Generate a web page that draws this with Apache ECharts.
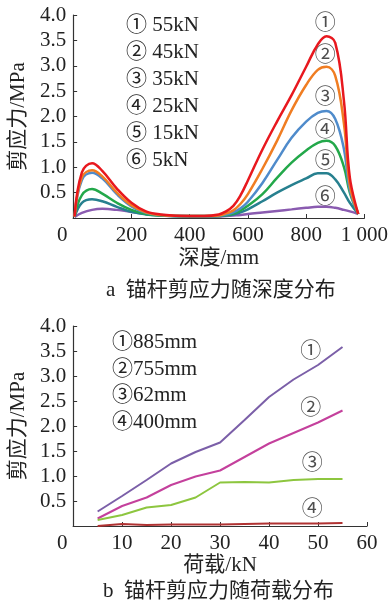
<!DOCTYPE html>
<html>
<head>
<meta charset="utf-8">
<script src="https://cdn.jsdelivr.net/npm/echarts@6/dist/echarts.min.js"></script>
<style>
html,body{margin:0;padding:0;background:#fff;}
#chart{width:391px;height:600px;}
</style>
</head>
<body>
<div id="chart"></div>
<script>
// ---- Chart a: shear stress vs depth ----
const depth = [5, 30, 65, 100, 150, 200, 250, 300, 400, 450, 500, 525, 550, 575, 600, 650, 700, 750, 800, 840, 870, 900, 930, 950, 979];
const load55 = [0.03, 0.90, 1.08, 0.93, 0.58, 0.30, 0.13, 0.07, 0.04, 0.04, 0.07, 0.13, 0.24, 0.45, 0.74, 1.35, 1.90, 2.42, 2.98, 3.42, 3.58, 3.45, 2.30, 0.80, 0.08];
const load45 = [0.03, 0.80, 0.94, 0.82, 0.50, 0.25, 0.11, 0.06, 0.04, 0.04, 0.05, 0.09, 0.15, 0.28, 0.47, 0.97, 1.52, 2.12, 2.62, 2.92, 2.98, 2.80, 1.85, 0.65, 0.08];
const load35 = [0.03, 0.75, 0.89, 0.78, 0.47, 0.23, 0.10, 0.06, 0.04, 0.04, 0.05, 0.07, 0.11, 0.19, 0.32, 0.69, 1.14, 1.58, 1.90, 2.07, 2.11, 1.95, 1.35, 0.55, 0.08];
const load25 = [0.03, 0.45, 0.57, 0.48, 0.30, 0.16, 0.08, 0.05, 0.04, 0.04, 0.04, 0.06, 0.09, 0.15, 0.24, 0.47, 0.79, 1.09, 1.33, 1.48, 1.52, 1.42, 1.00, 0.50, 0.08];
const load15 = [0.02, 0.30, 0.37, 0.33, 0.22, 0.12, 0.07, 0.05, 0.03, 0.03, 0.04, 0.05, 0.07, 0.11, 0.17, 0.33, 0.50, 0.65, 0.78, 0.88, 0.88, 0.76, 0.50, 0.30, 0.08];
const load5  = [0.02, 0.10, 0.16, 0.18, 0.16, 0.12, 0.08, 0.05, 0.03, 0.03, 0.03, 0.04, 0.05, 0.06, 0.08, 0.11, 0.14, 0.17, 0.20, 0.22, 0.22, 0.20, 0.16, 0.13, 0.08];
const seriesA = [
  { name: '① 55kN', values: load55, color: '#e8181e' },
  { name: '② 45kN', values: load45, color: '#f07d22' },
  { name: '③ 35kN', values: load35, color: '#4f8bcb' },
  { name: '④ 25kN', values: load25, color: '#23a84a' },
  { name: '⑤ 15kN', values: load15, color: '#27808f' },
  { name: '⑥ 5kN',  values: load5,  color: '#8a5bb0' }
];
const annoAText = ['①', '②', '③', '④', '⑤', '⑥'];
const annoAX = [866, 866, 866, 866, 866, 866];
const annoAY = [3.84, 3.21, 2.38, 1.73, 1.12, 0.41];

// ---- Chart b: shear stress vs load ----
const loads = [5, 10, 15, 20, 25, 30, 35, 40, 45, 50, 55];
const pos885 = [0.29, 0.60, 0.92, 1.25, 1.48, 1.67, 2.12, 2.58, 2.93, 3.22, 3.58];
const pos755 = [0.15, 0.40, 0.57, 0.82, 0.99, 1.11, 1.38, 1.65, 1.86, 2.07, 2.31];
const pos62  = [0.12, 0.22, 0.37, 0.42, 0.57, 0.87, 0.88, 0.87, 0.92, 0.94, 0.94];
const pos400 = [0.00, 0.04, 0.02, 0.03, 0.03, 0.03, 0.04, 0.05, 0.05, 0.05, 0.06];
const seriesB = [
  { name: '①885mm', values: pos885, color: '#7b5fa8' },
  { name: '②755mm', values: pos755, color: '#c4409c' },
  { name: '③62mm',  values: pos62,  color: '#8dc63f' },
  { name: '④400mm', values: pos400, color: '#b03232' }
];
const annoBText = ['①', '②', '③', '④'];
const annoBX = [48.5, 48.5, 48.8, 48.8];
const annoBY = [3.49, 2.35, 1.25, 0.33];

const SERIF = "'Liberation Serif', 'Times New Roman', 'Noto Sans CJK SC', serif";
const CJK = "'Liberation Serif', 'Noto Sans CJK SC', serif";
const FS = 21;

function xLabelFmt(v) {
  if (v === 0) return '{z|0}';
  if (v >= 1000) return String(v).replace(/\B(?=(\d{3})+(?!\d))/g, ' ');
  return String(v);
}

function valueAxisY(gridIndex) {
  return {
    type: 'value', gridIndex: gridIndex, min: 0, max: 4, interval: 0.5,
    name: '剪应力/MPa', nameLocation: 'middle', nameGap: 43, nameRotate: 90,
    nameTextStyle: { fontFamily: CJK, fontSize: 21, color: '#222' },
    axisLine: { show: true, lineStyle: { color: '#333', width: 1.2 } },
    axisTick: { show: true, inside: true, length: 4, lineStyle: { color: '#333' } },
    axisLabel: {
      fontFamily: SERIF, fontSize: FS, color: '#222', margin: 7,
      formatter: function (v) { return v === 0 ? '' : v.toFixed(1); }
    },
    splitLine: { show: false }
  };
}

function valueAxisX(gridIndex, max, interval, name, nameGap) {
  return {
    type: 'value', gridIndex: gridIndex, min: 0, max: max, interval: interval,
    name: name, nameLocation: 'middle', nameGap: nameGap,
    nameTextStyle: { fontFamily: CJK, fontSize: 21, color: '#222' },
    axisLine: { show: true, onZero: false, lineStyle: { color: '#333', width: 1.2 } },
    axisTick: { show: true, inside: true, length: 4, lineStyle: { color: '#333' } },
    axisLabel: {
      fontFamily: SERIF, fontSize: FS, color: '#222', margin: 7,
      formatter: xLabelFmt,
      rich: { z: { fontFamily: SERIF, fontSize: FS, color: '#222', padding: [0, 22, 0, 0] } }
    },
    splitLine: { show: false }
  };
}

const series = [];
seriesA.forEach(function (s, k) {
  series.push({
    name: s.name, type: 'line', xAxisIndex: 0, yAxisIndex: 0,
    data: depth.map(function (d, i) { return [d, s.values[i]]; }),
    smooth: 0.4, showSymbol: false, symbol: 'none',
    lineStyle: { color: s.color, width: 2.5 }, itemStyle: { color: s.color },
    z: 10 - k
  });
});
series.push({
  type: 'scatter', xAxisIndex: 0, yAxisIndex: 0, symbolSize: 0, silent: true,
  data: annoAX.map(function (x, i) { return { value: [x, annoAY[i]], name: annoAText[i] }; }),
  label: { show: true, position: 'inside', formatter: '{b}', fontFamily: CJK, fontSize: 21, color: '#222' }
});
seriesB.forEach(function (s) {
  series.push({
    name: s.name, type: 'line', xAxisIndex: 1, yAxisIndex: 1,
    data: loads.map(function (x, i) { return [x, s.values[i]]; }),
    smooth: false, showSymbol: false, symbol: 'none',
    lineStyle: { color: s.color, width: 2 }, itemStyle: { color: s.color }
  });
});
series.push({
  type: 'scatter', xAxisIndex: 1, yAxisIndex: 1, symbolSize: 0, silent: true,
  data: annoBX.map(function (x, i) { return { value: [x, annoBY[i]], name: annoBText[i] }; }),
  label: { show: true, position: 'inside', formatter: '{b}', fontFamily: CJK, fontSize: 21, color: '#222' }
});

const legendStyle = { fontFamily: CJK, fontSize: 21, color: '#222', lineHeight: 21 };

const option = {
  animation: false,
  backgroundColor: '#fff',
  title: [
    { text: 'a  锚杆剪应力随深度分布', left: 101, top: 275,
      textStyle: { fontFamily: CJK, fontSize: 21, fontWeight: 'normal', color: '#222' } },
    { text: 'b  锚杆剪应力随荷载分布', left: 98, top: 576,
      textStyle: { fontFamily: CJK, fontSize: 21, fontWeight: 'normal', color: '#222' } }
  ],
  legend: [
    { data: seriesA.map(function (s) { return s.name; }), orient: 'vertical', left: 116, top: 10,
      icon: 'none', itemWidth: 0, itemHeight: 0, itemGap: 6, textStyle: legendStyle, selectedMode: false },
    { data: seriesB.map(function (s) { return s.name; }), orient: 'vertical', left: 102, top: 327,
      icon: 'none', itemWidth: 0, itemHeight: 0, itemGap: 5.5, textStyle: legendStyle, selectedMode: false }
  ],
  grid: [
    { left: 71, top: 15, width: 297.5, height: 203 },
    { left: 71, top: 326, width: 296, height: 200 }
  ],
  xAxis: [
    valueAxisX(0, 1000, 200, '深度/mm', 30),
    valueAxisX(1, 60, 10, '荷载/kN', 28)
  ],
  yAxis: [valueAxisY(0), valueAxisY(1)],
  series: series
};

const chart = echarts.init(document.getElementById('chart'), null, { renderer: 'canvas' });
chart.setOption(option);
</script>
</body>
</html>
